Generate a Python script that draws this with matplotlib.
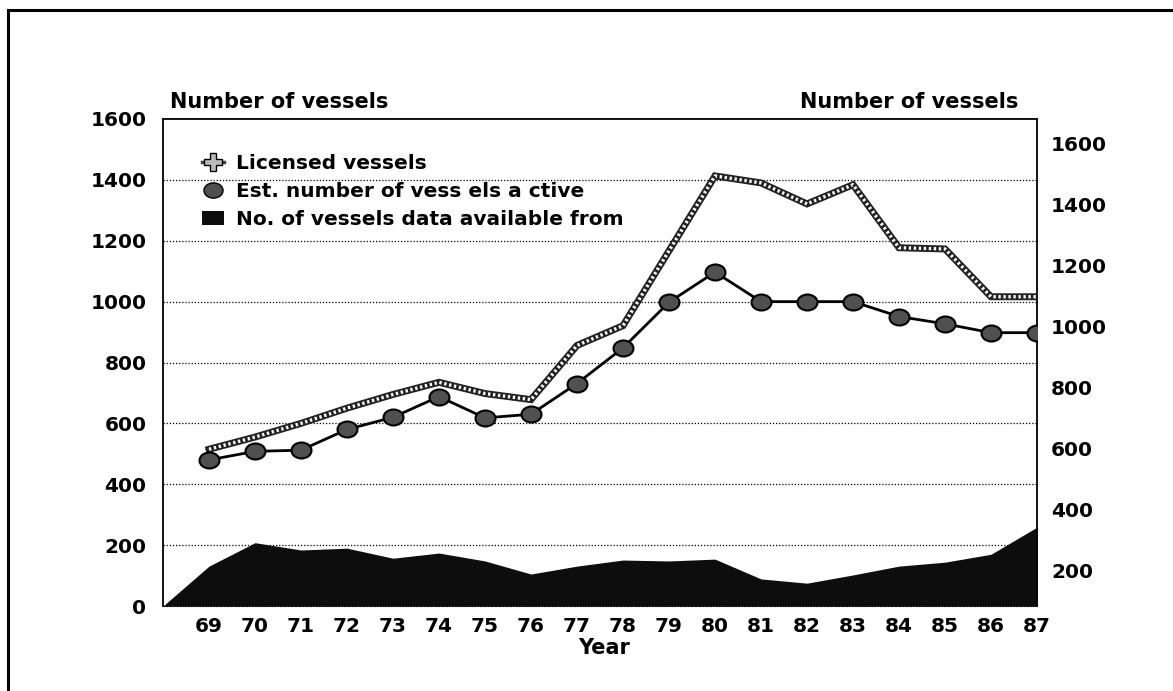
import matplotlib.pyplot as plt
from matplotlib.lines import Line2D
from matplotlib.patches import Patch
from matplotlib.markers import MarkerStyle
from matplotlib.transforms import Affine2D

plt.rcParams["font.family"] = ["DejaVu Sans"]
plt.rcParams["font.weight"] = "bold"

years = list(range(69, 88))
licensed = [515, 555, 600, 650, 695, 735, 698, 678, 856, 921, 1167, 1413,
            1390, 1321, 1384, 1177, 1173, 1016, 1016]
est_active = [480, 508, 512, 580, 620, 688, 618, 630, 731, 848, 998, 1097,
              1000, 1000, 1000, 951, 927, 898, 898]
data_years = list(range(68, 88))
data_available = [0, 131, 208, 184, 190, 157, 174, 148, 105, 131, 151, 148,
                  154, 89, 75, 102, 131, 144, 170, 259]

left_ticks = [0, 200, 400, 600, 800, 1000, 1200, 1400, 1600]
right_ticks = [200, 400, 600, 800, 1000, 1200, 1400, 1600]

fig = plt.figure(figsize=(11.73, 6.91), dpi=100)
ax = fig.add_axes([163 / 1173, 1 - 606 / 691, (1037 - 163) / 1173, (606 - 119) / 691])

# grid
for v in left_ticks[1:-1]:
    ax.axhline(v, color="black", lw=0.9, ls=(0, (1, 1.5)), zorder=1)

ax.fill_between(data_years, data_available, color="#0d0d0d", lw=0, zorder=2)

# licensed vessels: dark band with white dots inside
ax.plot(years, licensed, color="#222222", lw=5, solid_joinstyle="miter", zorder=3)
ax.plot(years, licensed, color="white", lw=2.4, ls=(0, (0.7, 0.8)), zorder=4)

ell = MarkerStyle("o", transform=Affine2D().scale(1.25, 1.0))
ax.plot(years, est_active, color="black", lw=2, zorder=5)
ax.plot(years, est_active, ls="none", marker=ell, markersize=11.5,
        markerfacecolor="#505050", markeredgecolor="black", markeredgewidth=1.5, zorder=6)

ax.set_xlim(68, 87)
ax.set_ylim(0, 1600)
ax.set_xticks(years)
ax.set_xticklabels([str(y) for y in years])
ax.set_yticks(left_ticks)
ax.tick_params(axis="both", length=0, labelsize=14.5)
ax.tick_params(axis="y", pad=12)
ax.tick_params(axis="x", pad=8)

for side in ["left", "right", "top"]:
    ax.spines[side].set_linewidth(1.3)
ax.spines["bottom"].set_linestyle((0, (1, 1.5)))
ax.spines["bottom"].set_linewidth(0.8)

ax2 = ax.twinx()
ax2.set_ylim(82, 1679)
ax2.set_yticks(right_ticks)
ax2.tick_params(axis="y", length=0, labelsize=14.5, pad=10)
for s in ax2.spines.values():
    s.set_visible(False)

handles = [
    Line2D([], [], color="#444444", lw=2.5, marker="P", markersize=13,
           markerfacecolor="#bbbbbb", markeredgecolor="black"),
    Line2D([], [], ls="none", marker=ell, markersize=11,
           markerfacecolor="#505050", markeredgecolor="black"),
    Patch(facecolor="#0d0d0d", edgecolor="none"),
]
labels = ["Licensed vessels", "Est. number of vess els a ctive",
          "No. of vessels data available from"]
ax.legend(handles, labels, loc="upper left", bbox_to_anchor=(0.035, 0.944),
          frameon=False, fontsize=14.5, handlelength=1.1, handletextpad=0.6,
          labelspacing=0.45, borderaxespad=0)

fig.text(170 / 1173, 1 - 102 / 691, "Number of vessels", fontsize=15,
         ha="left", va="center")
fig.text(1018 / 1173, 1 - 102 / 691, "Number of vessels", fontsize=15,
         ha="right", va="center")
fig.text(604 / 1173, 1 - 648 / 691, "Year", fontsize=15, ha="center", va="center")

# outer frame (top and left only)
fig.add_artist(Line2D([8 / 1173, 1.0], [1 - 10 / 691, 1 - 10 / 691],
                      color="black", lw=2.2, transform=fig.transFigure))
fig.add_artist(Line2D([8 / 1173, 8 / 1173], [0, 1 - 10 / 691],
                      color="black", lw=2.2, transform=fig.transFigure))

fig.savefig("out.png", dpi=100)
